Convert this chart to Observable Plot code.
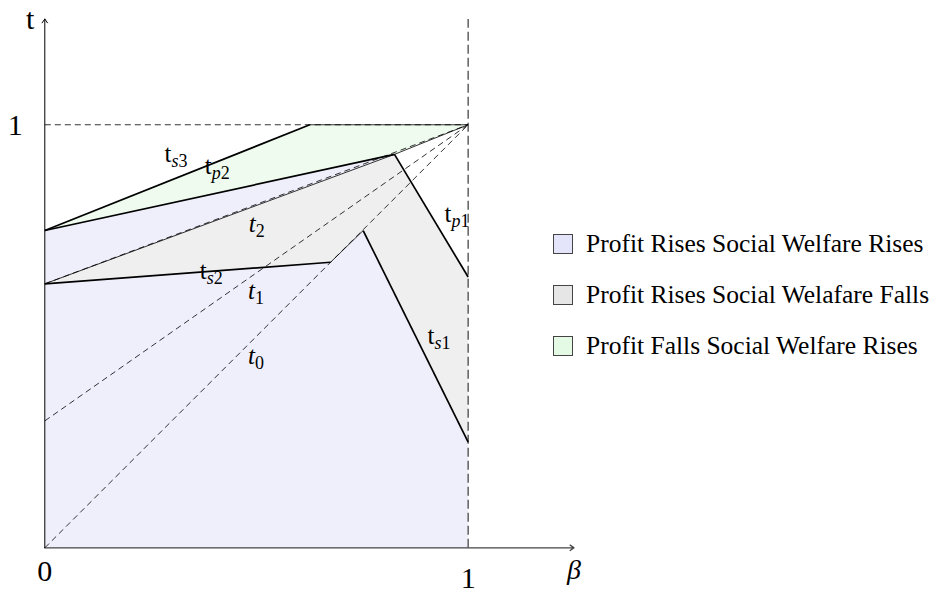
<!DOCTYPE html>
<html><head><meta charset="utf-8">
<script src="https://cdn.jsdelivr.net/npm/d3@7"></script>
<script src="https://cdn.jsdelivr.net/npm/@observablehq/plot@0.6"></script>
<style>
body{margin:0;background:#fff;}
#wrap{position:relative;width:944px;height:592px;}
#legend{position:absolute;left:553px;top:0;font-family:"Liberation Serif";font-size:25.5px;color:#000;}
.item{position:absolute;left:0;display:flex;align-items:center;white-space:nowrap;height:26px;}
.sw{width:20px;height:20px;border:1px solid #444;box-sizing:border-box;margin-right:13px;}
</style></head><body><div id="wrap"><div id="legend"></div></div>
<script>
// ---- axis extents ----
const xMax = 1.25, yMax = 1.25;
const xTickValues = [0, 1];
const yTickValues = [1];
const xAxisLabel = "β";
const yAxisLabel = "t";

// ---- regions (polygon vertices, [β, t]) ----
const blueRegion  = [[0,0],[1,0],[1,0.25],[0.752,0.75],[0.826,0.93],[0,0.75]];
const grayRegion  = [[0,0.624],[0.826,0.93],[1,0.64],[1,0.25],[0.752,0.75],[0.675,0.675]];
const greenRegion = [[0,0.75],[0.626,1],[1,1],[0.826,0.93]];

// ---- dashed reference lines t0, t1, t2, t=1 ----
const dashedX1 = [0, 0, 0, 0];
const dashedY1 = [0, 0.3, 0.624, 1];
const dashedX2 = [1, 1, 1, 1];
const dashedY2 = [1, 1, 1, 1];

// ---- solid boundary curves ----
const thickX1 = [0, 0, 0.826, 0, 0.752];
const thickY1 = [0.75, 0.75, 0.93, 0.624, 0.75];
const thickX2 = [0.626, 0.826, 1, 0.675, 1];
const thickY2 = [1, 0.93, 0.64, 0.675, 0.25];
const thinX1 = [0.626, 0.826, 0.675, 0];
const thinY1 = [1, 0.93, 0.675, 0.624];
const thinX2 = [1, 1, 0.752, 0.826];
const thinY2 = [1, 1, 0.75, 0.93];

// ---- curve labels ----
const labelMain   = ["t", "t", "t", "t", "t", "t", "t", "t"];
const labelSub    = ["s3", "p2", "2", "s2", "1", "0", "p1", "s1"];
const labelItalic = [false, false, true, false, true, true, false, false];
const labelX = [0.283, 0.378, 0.482, 0.366, 0.480, 0.480, 0.944, 0.904];
const labelY = [0.912, 0.884, 0.746, 0.636, 0.589, 0.435, 0.770, 0.482];

// ---- legend ----
const legendLabels = ["Profit Rises Social Welfare Rises", "Profit Rises Social Welafare Falls", "Profit Falls Social Welfare Rises"];
const legendColors = ["#e4e4fb", "#e6e6e6", "#e4fae4"];
const regionColors = ["#efeffc", "#efefef", "#eefbee"];

const seg = (a, b, c, d) => a.map((_, i) => ({x1: a[i], y1: b[i], x2: c[i], y2: d[i]}));
const dashed = seg(dashedX1, dashedY1, dashedX2, dashedY2);
const thick = seg(thickX1, thickY1, thickX2, thickY2);
const thin = seg(thinX1, thinY1, thinX2, thinY2);
const labels = labelMain.map((m, i) => ({x: labelX[i], y: labelY[i], main: m, sub: labelSub[i], it: labelItalic[i]}));
const axes = [{x1: 0, y1: 0, x2: xMax, y2: 0, s: "#444", w: 1.3}, {x1: 0, y1: 0, x2: 0, y2: yMax, s: "#000", w: 1}];
const serif = "Liberation Serif";

const chart = Plot.plot({
  width: 944, height: 592,
  marginLeft: 44.3, marginRight: 370.5, marginTop: 18.5, marginBottom: 44.7,
  x: {domain: [0, xMax], axis: null},
  y: {domain: [0, yMax], axis: null},
  style: {fontFamily: serif, background: "white", overflow: "visible"},
  marks: [
    Plot.line(blueRegion, {x: d => d[0], y: d => d[1], fill: regionColors[0], stroke: "none"}),
    Plot.line(grayRegion, {x: d => d[0], y: d => d[1], fill: regionColors[1], stroke: "none"}),
    Plot.line(greenRegion, {x: d => d[0], y: d => d[1], fill: regionColors[2], stroke: "none"}),
    Plot.link(dashed, {x1: "x1", y1: "y1", x2: "x2", y2: "y2", stroke: "#000", strokeWidth: 0.8, strokeDasharray: "6,4"}),
    Plot.link([{x: 1}], {x1: "x", x2: "x", y1: () => 0, y2: () => yMax, stroke: "#555", strokeWidth: 1.4, strokeDasharray: "9,4"}),
    Plot.link(thin, {x1: "x1", y1: "y1", x2: "x2", y2: "y2", stroke: "#000", strokeWidth: 0.8}),
    Plot.link(thick, {x1: "x1", y1: "y1", x2: "x2", y2: "y2", stroke: "#000", strokeWidth: 1.7}),
    Plot.arrow(axes, {x1: "x1", y1: "y1", x2: "x2", y2: "y2", stroke: "s", strokeWidth: "w", headLength: 7, headAngle: 70}),
    Plot.text(labels, {x: "x", y: "y", text: "main", textAnchor: "start", lineAnchor: "bottom", fontSize: 25, fontFamily: serif, className: "clabel"}),
    Plot.text(xTickValues.filter(v => v === 0), {x: d => d, y: () => 0, text: String, lineAnchor: "bottom", dy: 33, fontSize: 30, fontFamily: serif}),
    Plot.text(xTickValues.filter(v => v !== 0), {x: d => d, y: () => 0, text: String, lineAnchor: "bottom", dy: 40, fontSize: 30, fontFamily: serif}),
    Plot.text(yTickValues, {x: () => 0, y: d => d, text: String, lineAnchor: "bottom", dx: -29.6, dy: 10.7, fontSize: 30, fontFamily: serif}),
    Plot.text([yAxisLabel], {x: () => 0, y: () => yMax, text: d => d, lineAnchor: "bottom", dx: -14.6, dy: 10, fontSize: 30, fontFamily: serif}),
    Plot.text([xAxisLabel], {x: () => xMax, y: () => 0, text: d => d, lineAnchor: "bottom", dx: 0, dy: 31, fontSize: 28, fontStyle: "italic", fontFamily: serif})
  ]
});

// rebuild curve labels with subscripts
d3.select(chart).selectAll("g.clabel text").each(function(_, i) {
  const d = labels[i];
  const t = d3.select(this);
  t.text(null);
  t.append("tspan").attr("font-style", d.it ? "italic" : "normal").text(d.main);
  [...d.sub].forEach((ch, k) => {
    const sp = t.append("tspan").attr("font-size", 18)
      .attr("font-style", /[a-z]/.test(ch) ? "italic" : "normal").text(ch);
    if (k === 0) sp.attr("dy", 5);
  });
});

document.getElementById("wrap").prepend(chart);

const legend = d3.select("#legend");
legendLabels.forEach((lab, i) => {
  const it = legend.append("div").attr("class", "item").style("top", (231 + i * 51) + "px");
  it.append("div").attr("class", "sw").style("background", legendColors[i]);
  it.append("span").text(lab);
});
</script></body></html>
